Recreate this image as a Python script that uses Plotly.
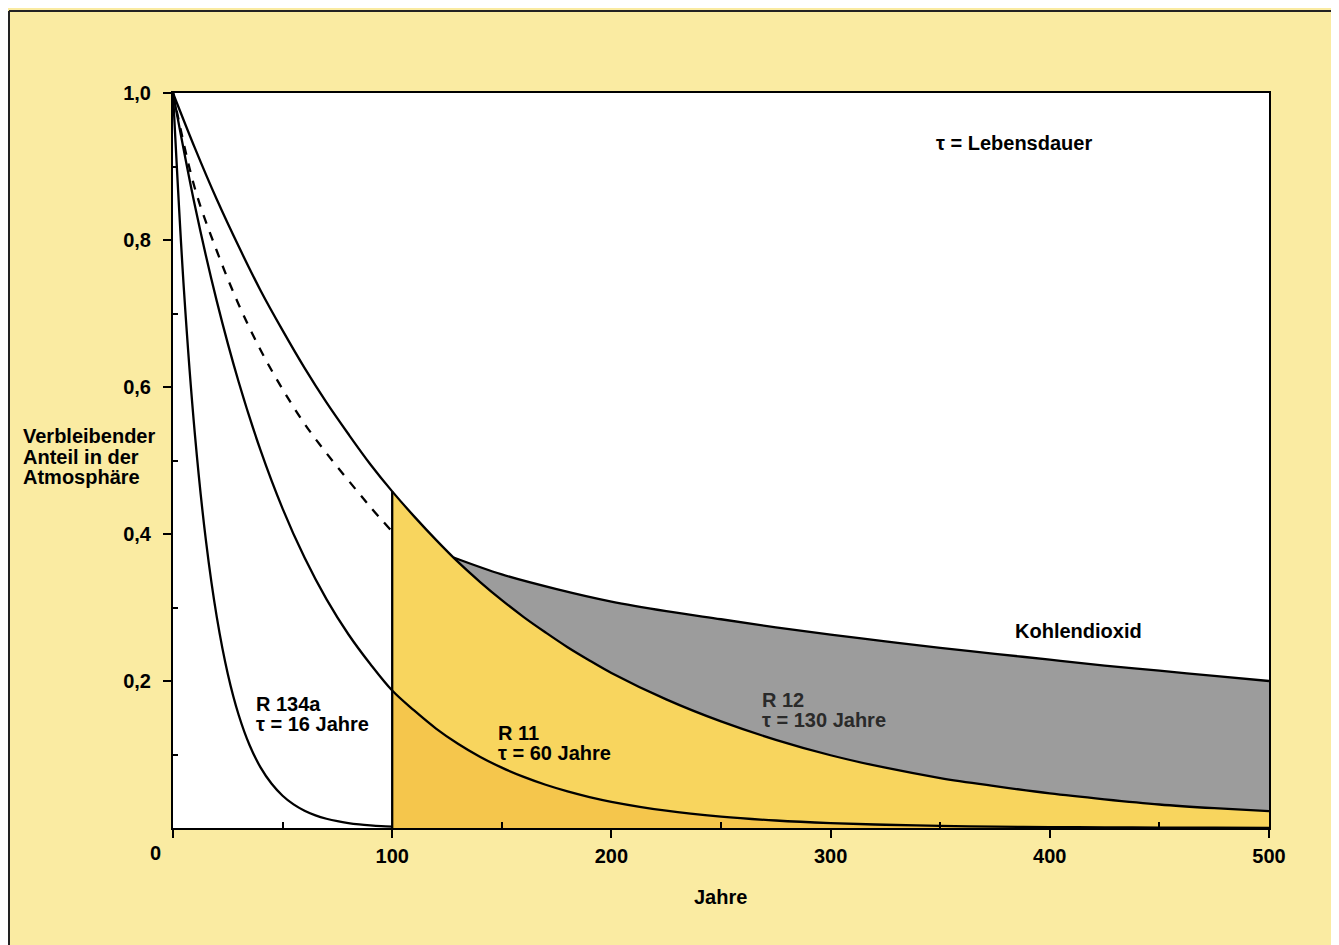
import plotly.graph_objects as go

# ---- data ----
r134a_years = [0, 5, 10, 15, 20, 25, 30, 35, 40, 45, 50, 55, 60, 65, 70, 75, 80, 85, 90, 95, 100]
r134a_vals = [1.0, 0.7316, 0.5353, 0.3916, 0.2865, 0.2096, 0.1534, 0.1122, 0.0821, 0.0601,
              0.0439, 0.0321, 0.0235, 0.0172, 0.0126, 0.0092, 0.0067, 0.0049, 0.0036, 0.0026,
              0.0019]

r11_years = [0, 10, 20, 30, 40, 50, 60, 70, 80, 90, 100, 110, 120, 130, 140, 150, 160, 170, 180,
             190, 200, 225, 250, 275, 300, 325, 350, 375, 400, 425, 450, 475, 500]
r11_vals = [1.0, 0.8465, 0.7165, 0.6065, 0.5134, 0.4346, 0.3679, 0.3114, 0.2636, 0.2231, 0.187,
            0.1599, 0.1353, 0.1146, 0.097, 0.0821, 0.0695, 0.0588, 0.0498, 0.0421, 0.0357,
            0.0235, 0.0155, 0.0102, 0.0067, 0.0044, 0.0029, 0.0019, 0.0013, 0.0008, 0.0006,
            0.0004, 0.0002]

r12_years = [0, 10, 20, 30, 40, 50, 60, 70, 80, 90, 100, 110, 120, 130, 140, 150, 160, 170, 180,
             190, 200, 225, 250, 275, 300, 325, 350, 375, 400, 425, 450, 475, 500]
r12_vals = [1.0, 0.925, 0.855, 0.791, 0.731, 0.677, 0.626, 0.579, 0.536, 0.495, 0.458, 0.424,
            0.392, 0.362, 0.335, 0.31, 0.287, 0.266, 0.246, 0.228, 0.211, 0.175, 0.145, 0.12,
            0.099, 0.082, 0.068, 0.057, 0.047, 0.039, 0.032, 0.027, 0.023]

co2_years = [0, 10, 20, 30, 40, 50, 60, 70, 80, 90, 100, 128, 150, 175, 200, 225, 250, 275, 300,
             325, 350, 375, 400, 425, 450, 475, 500]
co2_vals = [1.0, 0.87, 0.785, 0.712, 0.65, 0.597, 0.55, 0.51, 0.473, 0.437, 0.403, 0.368, 0.345,
            0.325, 0.308, 0.295, 0.284, 0.273, 0.263, 0.254, 0.245, 0.237, 0.229, 0.221, 0.214,
            0.207, 0.2]

y_tick_vals = [0.2, 0.4, 0.6, 0.8, 1.0]
y_tick_text = ["0,2", "0,4", "0,6", "0,8", "1,0"]
x_tick_vals = [0, 100, 200, 300, 400, 500]
x_tick_text = ["", "100", "200", "300", "400", "500"]

START = 100   # phase-out year where the shaded areas begin
CROSS = 128   # year where the CO2 curve meets the R12 curve

BG = "#FAEBA2"
YELLOW = "#F8D55E"
ORANGE = "#F5C64C"
GRAY = "#9C9C9C"
FONT = "Liberation Sans"

# page geometry (the html body adds an 8 px margin)
PL, PR, PT, PB = 173, 1269, 93, 828
PW, PH = PR - PL, PB - PT


def px(xp):
    return (xp - PL) / PW


def py(yp):
    return (PB - yp) / PH


def from_year(years, vals, y0):
    xs = [x for x in years if x >= y0]
    ys = [v for x, v in zip(years, vals) if x >= y0]
    return xs, ys


fig = go.Figure()

# filled areas
cx, cy = from_year(co2_years, co2_vals, CROSS)
fig.add_trace(go.Scatter(x=cx, y=cy, mode="lines", line=dict(width=0, shape="spline"),
                         fill="tozeroy", fillcolor=GRAY, hoverinfo="skip"))
rx, ry = from_year(r12_years, r12_vals, START)
fig.add_trace(go.Scatter(x=rx, y=ry, mode="lines", line=dict(width=0, shape="spline"),
                         fill="tozeroy", fillcolor=YELLOW, hoverinfo="skip"))
ox, oy = from_year(r11_years, r11_vals, START)
fig.add_trace(go.Scatter(x=ox, y=oy, mode="lines", line=dict(width=0, shape="spline"),
                         fill="tozeroy", fillcolor=ORANGE, hoverinfo="skip"))

# lines
line_style = dict(color="black", width=2.3, shape="spline")
fig.add_trace(go.Scatter(x=r134a_years, y=r134a_vals, mode="lines", line=line_style))
fig.add_trace(go.Scatter(x=r11_years, y=r11_vals, mode="lines", line=line_style))
fig.add_trace(go.Scatter(x=r12_years, y=r12_vals, mode="lines", line=line_style))
dx = [x for x in co2_years if x <= START]
dy = [v for x, v in zip(co2_years, co2_vals) if x <= START]
fig.add_trace(go.Scatter(x=dx, y=dy, mode="lines",
                         line=dict(color="black", width=2.3, dash="dash", shape="spline")))
fig.add_trace(go.Scatter(x=cx, y=cy, mode="lines", line=line_style))

# vertical line at the start year up to the R12 curve
fig.add_shape(type="line", xref="x", yref="y", x0=START, x1=START, y0=0,
              y1=r12_vals[r12_years.index(START)], line=dict(color="black", width=2.3))

# outer frame (top and left edges)
fig.add_shape(type="line", xref="paper", yref="paper", x0=px(9), x1=px(1345),
              y0=py(11), y1=py(11), line=dict(color="#222", width=2))
fig.add_shape(type="line", xref="paper", yref="paper", x0=px(9), x1=px(9),
              y0=py(11), y1=py(950), line=dict(color="#222", width=2))

bold = dict(family=FONT, size=20, color="black", weight="bold")
dark = dict(family=FONT, size=20, color="#2a2a2a", weight="bold")

ann = [
    dict(x=347, y=0.932, text="τ = Lebensdauer"),
    dict(x=383, y=0.268, text="Kohlendioxid"),
    dict(x=37, y=0.1687, text="R 134a"),
    dict(x=37, y=0.1415, text="τ = 16 Jahre"),
    dict(x=147.5, y=0.1293, text="R 11"),
    dict(x=147.5, y=0.102, text="τ = 60 Jahre"),
    dict(x=268, y=0.1741, text="R 12", font=dark),
    dict(x=268, y=0.1469, text="τ = 130 Jahre", font=dark),
]
for a in ann:
    a.setdefault("font", bold)
    a.update(xref="x", yref="y", showarrow=False, xanchor="left", yanchor="middle")
    fig.add_annotation(**a)

for i, t in enumerate(["Verbleibender", "Anteil in der", "Atmosphäre"]):
    fig.add_annotation(xref="paper", yref="paper", x=px(21), y=py(436 + 20.5 * i), text=t,
                       showarrow=False, xanchor="left", yanchor="middle", font=bold)
fig.add_annotation(xref="paper", yref="paper", x=px(720), y=py(897), text="Jahre",
                   showarrow=False, xanchor="center", yanchor="middle", font=bold)
fig.add_annotation(xref="paper", yref="paper", x=px(155), y=py(853), text="0",
                   showarrow=False, xanchor="center", yanchor="middle", font=bold)

fig.update_layout(
    width=1331, height=937,
    margin=dict(l=PL - 8, r=1339 - PR, t=PT - 8, b=945 - PB),
    paper_bgcolor=BG, plot_bgcolor="white",
    showlegend=False,
    font=bold,
)
fig.update_xaxes(range=[0, 500], showgrid=False, zeroline=False, showline=True, mirror=True,
                 linecolor="black", linewidth=2, tickvals=x_tick_vals, ticktext=x_tick_text,
                 ticks="outside", ticklen=8, tickwidth=2, tickcolor="black",
                 ticklabelstandoff=1,
                 minor=dict(tickvals=[50, 150, 250, 350, 450], ticks="inside", ticklen=6,
                            tickwidth=2, tickcolor="black"),
                 tickfont=bold)
fig.update_yaxes(range=[0, 1], showgrid=False, zeroline=False, showline=True, mirror=True,
                 linecolor="black", linewidth=2, tickvals=y_tick_vals, ticktext=y_tick_text,
                 ticks="outside", ticklen=8, tickwidth=2, tickcolor="black",
                 ticklabelstandoff=8,
                 minor=dict(tickvals=[0.1, 0.3, 0.5, 0.7, 0.9], ticks="inside", ticklen=5,
                            tickwidth=2, tickcolor="black"),
                 tickfont=bold)

fig.write_html("out.html")
